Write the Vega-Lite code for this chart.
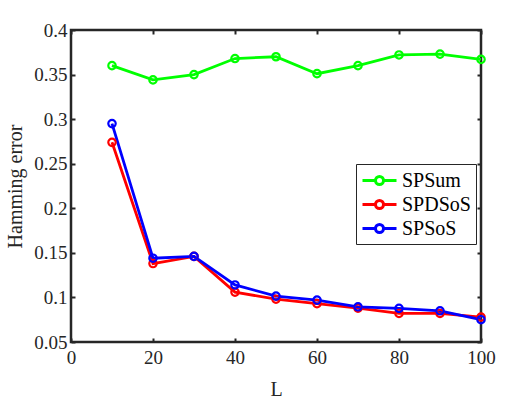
{
  "$schema": "https://vega.github.io/schema/vega-lite/v6.json",
  "width": 410,
  "height": 312,
  "autosize": {"type": "none"},
  "padding": {"left": 71, "top": 30, "right": 51, "bottom": 57},
  "background": "white",
  "config": {
    "view": {"stroke": "#262626", "strokeWidth": 2.5},
    "font": "Liberation Serif, Times New Roman, serif",
    "axis": {
      "labelFont": "Liberation Serif, Times New Roman, serif",
      "titleFont": "Liberation Serif, Times New Roman, serif",
      "labelFontSize": 19,
      "titleFontSize": 20,
      "labelColor": "#262626",
      "titleColor": "#262626",
      "titleFontWeight": "normal",
      "labelFlush": false,
      "domain": false,
      "grid": false,
      "tickColor": "#262626",
      "tickSize": -4,
      "tickWidth": 2
    }
  },
  "data": {
    "values": [
      {"L": 10, "err": 0.360, "method": "SPSum"},
      {"L": 20, "err": 0.344, "method": "SPSum"},
      {"L": 30, "err": 0.350, "method": "SPSum"},
      {"L": 40, "err": 0.368, "method": "SPSum"},
      {"L": 50, "err": 0.370, "method": "SPSum"},
      {"L": 60, "err": 0.351, "method": "SPSum"},
      {"L": 70, "err": 0.360, "method": "SPSum"},
      {"L": 80, "err": 0.372, "method": "SPSum"},
      {"L": 90, "err": 0.373, "method": "SPSum"},
      {"L": 100, "err": 0.367, "method": "SPSum"},
      {"L": 10, "err": 0.274, "method": "SPDSoS"},
      {"L": 20, "err": 0.138, "method": "SPDSoS"},
      {"L": 30, "err": 0.146, "method": "SPDSoS"},
      {"L": 40, "err": 0.106, "method": "SPDSoS"},
      {"L": 50, "err": 0.098, "method": "SPDSoS"},
      {"L": 60, "err": 0.093, "method": "SPDSoS"},
      {"L": 70, "err": 0.088, "method": "SPDSoS"},
      {"L": 80, "err": 0.082, "method": "SPDSoS"},
      {"L": 90, "err": 0.082, "method": "SPDSoS"},
      {"L": 100, "err": 0.078, "method": "SPDSoS"},
      {"L": 10, "err": 0.295, "method": "SPSoS"},
      {"L": 20, "err": 0.144, "method": "SPSoS"},
      {"L": 30, "err": 0.146, "method": "SPSoS"},
      {"L": 40, "err": 0.114, "method": "SPSoS"},
      {"L": 50, "err": 0.1015, "method": "SPSoS"},
      {"L": 60, "err": 0.097, "method": "SPSoS"},
      {"L": 70, "err": 0.0895, "method": "SPSoS"},
      {"L": 80, "err": 0.0877, "method": "SPSoS"},
      {"L": 90, "err": 0.085, "method": "SPSoS"},
      {"L": 100, "err": 0.075, "method": "SPSoS"}
    ]
  },
  "layer": [
    {
      "mark": {
        "type": "line",
        "strokeWidth": 2.8,
        "point": {"filled": false, "size": 55, "strokeWidth": 2.2}
      },
      "encoding": {
        "x": {
          "field": "L", "type": "quantitative",
          "scale": {"domain": [0, 100], "nice": false, "zero": false},
          "axis": {"values": [0, 20, 40, 60, 80, 100], "title": "L", "labelPadding": 10, "titlePadding": 12}
        },
        "y": {
          "field": "err", "type": "quantitative",
          "scale": {"domain": [0.05, 0.4], "nice": false, "zero": false},
          "axis": {"values": [0.05, 0.1, 0.15, 0.2, 0.25, 0.3, 0.35, 0.4], "format": "~g", "title": "Hamming error", "labelPadding": 8, "titlePadding": 8}
        },
        "color": {
          "field": "method", "type": "nominal",
          "scale": {"domain": ["SPSum", "SPDSoS", "SPSoS"], "range": ["#00ff00", "#ff0000", "#0000ff"]},
          "legend": {
            "title": null,
            "orient": "none",
            "legendX": 285,
            "legendY": 134,
            "labelFont": "Liberation Serif, Times New Roman, serif",
            "labelFontSize": 20,
            "labelColor": "black",
            "symbolType": "M-1.7,0H-0.4M0.4,0H1.7M0.4,0A0.4,0.4 0 1,1 -0.4,0A0.4,0.4 0 1,1 0.4,0",
            "symbolSize": 400,
            "symbolStrokeWidth": 3,
            "symbolFillColor": "transparent",
            "symbolOffset": 7,
            "strokeColor": "#262626",
            "fillColor": "white",
            "padding": 5,
            "rowPadding": 2,
            "labelOffset": 11
          }
        }
      }
    },
    {
      "mark": {"type": "point", "opacity": 0},
      "encoding": {
        "x": {"field": "L", "type": "quantitative", "axis": {"orient": "top", "values": [0, 20, 40, 60, 80, 100], "labels": false, "title": null}},
        "y": {"field": "err", "type": "quantitative", "axis": {"orient": "right", "values": [0.05, 0.1, 0.15, 0.2, 0.25, 0.3, 0.35, 0.4], "labels": false, "title": null}}
      }
    }
  ],
  "resolve": {"axis": {"x": "independent", "y": "independent"}}
}
